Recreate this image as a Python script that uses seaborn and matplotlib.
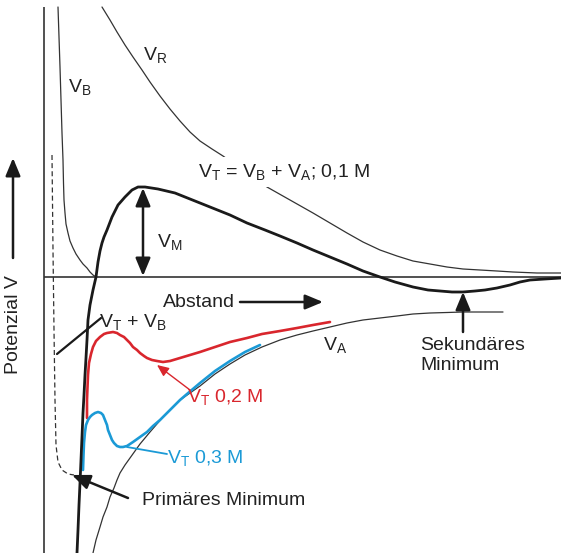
import numpy as np
import pandas as pd
import matplotlib
matplotlib.use("Agg")
import matplotlib.pyplot as plt
import seaborn as sns

sns.set_theme(style="white")
plt.rcParams["font.family"] = ["Liberation Sans", "DejaVu Sans"]
plt.rcParams["mathtext.fontset"] = "custom"
plt.rcParams["mathtext.rm"] = "Liberation Sans"
plt.rcParams["mathtext.it"] = "Liberation Sans:italic"
plt.rcParams["mathtext.bf"] = "Liberation Sans:bold"

# Schematic DLVO potentials: distance (Abstand) vs. potential, arbitrary units,
# origin where the two axes cross.
vb_x = [14, 15, 16, 17, 18, 19, 19.5, 20, 21, 22, 24, 26, 29, 32, 36, 39, 43, 46, 49, 52]
vb_y = [270, 240, 210, 177, 144, 117, 94, 77, 64, 53, 44, 36, 29, 23, 17, 13, 9, 5, 2, 0]

vr_x = [58, 66, 73, 81, 89, 98, 106, 116, 126, 136, 146, 156, 168, 179, 201, 223, 246, 269, 286,
        303, 319, 336, 353, 369, 386, 403, 419, 436, 453, 469, 493, 517]
vr_y = [270, 257, 245, 232, 220, 207, 195, 181, 168, 156, 145, 136, 128, 121, 105, 90, 77, 64, 54,
        44, 35, 27, 21, 16, 13, 10, 8, 7, 6, 5, 4, 4]

vt1_x = [33, 34, 35, 36, 37, 38, 39, 40, 41, 42, 43, 44, 46, 49, 52, 54, 56, 58, 60, 63, 68, 74,
         81, 88, 94, 101, 114, 131, 141, 166, 186, 203, 221, 236, 253, 269, 286, 303, 319, 336,
         351, 369, 384, 396, 408, 419, 431, 441, 453, 466, 476, 486, 501, 517]
vt1_y = [-276, -253, -228, -206, -183, -160, -136, -118, -98, -81, -63, -43, -28, -13, 0, 15, 26,
         34, 40, 47, 60, 72, 80, 87, 90, 90, 88, 84, 80, 70, 62, 54, 47, 41, 34, 27, 20, 13, 6, 0,
         -5, -10, -13, -14, -15, -15, -14, -13, -11, -8, -5, -3, -2, -1]

va_x = [49, 52, 56, 59, 63, 66, 70, 73, 76, 81, 86, 96, 106, 119, 136, 156, 171, 186, 201, 218,
        236, 253, 269, 286, 303, 319, 336, 353, 369, 386, 403, 419, 439, 459]
va_y = [-276, -263, -250, -240, -230, -220, -211, -203, -196, -188, -181, -167, -155, -140, -123,
        -109, -97, -87, -78, -70, -63, -58, -54, -50, -46, -43, -41, -39, -37, -36, -35.5, -35,
        -35, -35]

vt2_x = [43, 43, 43.5, 44, 45, 47, 49, 52, 56, 60, 63, 69, 73, 76, 80, 83, 86, 89, 93, 96, 100,
         103, 108, 113, 119, 126, 136, 146, 156, 171, 186, 203, 218, 236, 253, 269, 286]
vt2_y = [-141, -123, -110, -98, -86, -77, -70, -64, -60, -57, -56, -55, -56, -58, -60, -63, -66,
         -70, -73, -76, -79, -81, -83, -84, -85, -84, -81, -78, -75, -70, -65, -61, -57, -54, -51,
         -48, -45]

vt3_x = [39, 39.5, 40, 41, 42, 44, 46, 48, 51, 54, 57, 59, 61, 63, 64, 66, 68, 70, 73, 76, 79, 83,
         89, 96, 103, 109, 116, 126, 136, 143, 156, 171, 186, 201, 216]
vt3_y = [-193, -178, -166, -155, -148, -143, -140, -138, -136, -135, -136, -138, -143, -148, -153,
         -158, -163, -166, -169, -170, -170, -169, -165, -160, -155, -149, -143, -133, -123, -117,
         -106, -94, -84, -75, -68]

vtb_x = [8, 9, 10, 11, 12, 14, 18, 24, 30]
vtb_y = [122, 27, -53, -123, -168, -185, -193, -197, -198]

RED = "#d9262d"
BLUE = "#1b9ad6"
INK = "#1a1a1a"
GREY = "#333333"
TEXT = "#222222"

fig = plt.figure(figsize=(5.61, 5.53), dpi=100)
ax = fig.add_axes([0, 0, 1, 1])
ax.set_xlim(-44, 517)
ax.set_ylim(-276, 277)
ax.axis("off")


def curve(xs, ys, **kw):
    df = pd.DataFrame({"x": xs, "y": ys})
    sns.lineplot(data=df, x="x", y="y", ax=ax, sort=False, estimator=None,
                 legend=False, solid_joinstyle="round", **kw)


# axes
ax.plot([0, 0], [-276, 270], color=GREY, lw=1.2, solid_capstyle="butt")
ax.plot([0, 517], [0, 0], color=GREY, lw=1.2, solid_capstyle="butt")

curve(vb_x, vb_y, color=GREY, lw=0.9)
curve(vr_x, vr_y, color=GREY, lw=0.9)
curve(va_x, va_y, color=GREY, lw=0.9)
curve(vtb_x, vtb_y, color=GREY, lw=0.9, linestyle=(0, (4, 2.5)))
curve(vt2_x, vt2_y, color=RED, lw=1.9)
curve(vt3_x, vt3_y, color=BLUE, lw=1.9)
curve(vt1_x, vt1_y, color=INK, lw=2.0)

FS = 14


def label(x, y, s, **kw):
    kw.setdefault("color", TEXT)
    kw.setdefault("fontsize", FS)
    kw.setdefault("va", "baseline")
    ax.text(x, y, s, **kw)


def arrow(tail, tip, color=INK, lw=1.8, style="-|>,head_length=0.6,head_width=0.25", ms=18):
    ax.annotate("", xy=tip, xytext=tail,
                arrowprops=dict(arrowstyle=style, color=color, lw=lw,
                                mutation_scale=ms, shrinkA=0, shrinkB=0))


label(99, 217, r"$\mathregular{V_R}$")
label(24, 185, r"$\mathregular{V_B}$")
label(113, 30, r"$\mathregular{V_M}$")
label(154, 100, r"$\mathregular{V_T}$ = $\mathregular{V_B}$ + $\mathregular{V_A}$; 0,1 M",
      bbox=dict(boxstyle="square,pad=0.25", fc="white", ec="none"))
label(119, -30, "Abstand")
label(279, -73, r"$\mathregular{V_A}$")
label(143, -125, r"$\mathregular{V_T}$ 0,2 M", color=RED)
label(123, -186, r"$\mathregular{V_T}$ 0,3 M", color=BLUE)
label(55, -50, r"$\mathregular{V_T}$ + $\mathregular{V_B}$")
label(98, -228, "Primäres Minimum")
label(376, -73, "Sekundäres")
label(376, -93, "Minimum")
ax.text(-30, -48, "Potenzial V", rotation=90, ha="center", va="center",
        fontsize=FS, color=TEXT)

# V_M double arrow between the axis and the energy barrier
arrow((99, 1), (99, 89), style="<|-|>,head_length=0.6,head_width=0.25")
arrow((-31, 19), (-31, 119))
arrow((196, -25), (279, -25))
arrow((419, -55), (419, -15))
arrow((84, -221), (28, -198))
arrow((146, -113), (113, -88), color=RED, lw=1.0,
      style="-|>,head_length=0.5,head_width=0.22", ms=14)
ax.plot([57, 13], [-41, -77], color=INK, lw=1.6)
ax.plot([123, 83], [-177, -170], color=BLUE, lw=1.3)

fig.savefig("out.png", dpi=100)
